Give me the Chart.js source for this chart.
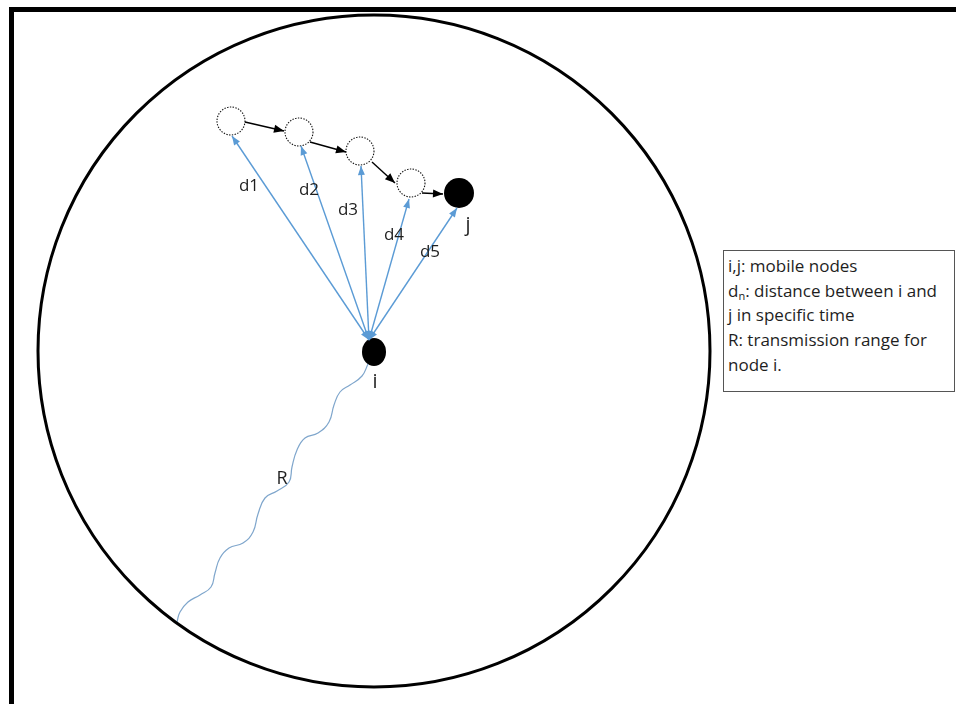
<!DOCTYPE html>
<html>
<head>
<meta charset="utf-8">
<title>Transmission range of node i</title>
<script src="https://cdn.jsdelivr.net/npm/chart.js@4/dist/chart.umd.min.js"></script>
<style>
  html, body { margin:0; padding:0; background:#fff; }
  #wrap { position:relative; width:956px; height:704px; overflow:hidden; }
  #frame { position:absolute; left:9px; top:7px; width:980px; height:740px;
           border-top:5px solid #000; border-left:5px solid #000; pointer-events:none; }
  #key { position:absolute; left:723px; top:250px; width:232px; height:142px; box-sizing:border-box;
         border:1.5px solid #555; padding:3px 0 0 4px; background:#fff;
         font-family:"Open Sans", sans-serif; font-size:17px; line-height:24.7px; color:#1e1e1e; }
  #key sub { font-size:11px; line-height:0; vertical-align:-3px; }
</style>
</head>
<body>
<div id="wrap">
  <canvas id="diagram"></canvas>
  <div id="frame"></div>
  <div id="key">
    <div>i,j: mobile nodes</div>
    <div>d<sub>n</sub>: distance between i and</div>
    <div>j in specific time</div>
    <div>R: transmission range for</div>
    <div>node i.</div>
  </div>
</div>
<script>
// coordinates: node i at origin, y up, 1 unit = 1 px
const X_MIN = -374, X_MAX = 582, Y_MIN = -352, Y_MAX = 352;

// range circle of node i
const rangeCenterX = [0];
const rangeCenterY = [1];
const rangeR = 336;

// earlier positions of node j (dotted)
const trailX = [-143, -75, -14, 37];
const trailY = [231, 220, 201, 169];

// current nodes
const nodeNames = ['j', 'i'];
const nodeX = [85, 0];
const nodeY = [159, 0];
const nodeLabelX = [94, 1];
const nodeLabelY = [127, -30];

// movement of j (black arrows)
const moveFromX = [-129, -64, -2, 48];
const moveFromY = [230, 210, 190, 159];
const moveToX = [-90, -28, 21, 69];
const moveToY = [221, 200, 169, 158];

// distances i -> j over time (blue arrows)
const distNames = ['d1', 'd2', 'd3', 'd4', 'd5'];
const distFromX = [-5, -5, -5, -5, -5];
const distFromY = [12, 12, 12, 12, 12];
const distToX = [-142, -73, -13, 35, 83];
const distToY = [216, 206, 186, 153, 144];
const distLabelX = [-125, -65, -26, 20, 56];
const distLabelY = [166, 162, 142, 117, 100];

// wavy radius line R
const waveX = [-6, -12, -24, -34, -40, -45, -56, -69, -77, -82, -85, -97, -109, -116, -121, -131, -145, -154, -159, -163, -174, -186, -194, -197];
const waveY = [-12, -24, -33, -40, -53, -70, -81, -86, -98, -115, -130, -139, -146, -162, -180, -191, -196, -206, -221, -235, -243, -250, -260, -270];
const rangeLabel = 'R';
const rangeLabelX = [-92];
const rangeLabelY = [-127];

const BLUE = '#5b9bd5';
const WAVE = '#7fa6cc';
const INK = '#1e1e1e';

function zip(xs, ys) { return xs.map((x, k) => ({ x, y: ys[k] })); }

function dottedRing(r) {
  const c = document.createElement('canvas');
  const s = 2 * r + 4;
  c.width = s; c.height = s;
  const g = c.getContext('2d');
  g.strokeStyle = '#111'; g.lineWidth = 1.1; g.setLineDash([1.4, 1.4]);
  g.beginPath(); g.arc(s / 2, s / 2, r, 0, Math.PI * 2); g.stroke();
  return c;
}
function blob(rx, ry) {
  const c = document.createElement('canvas');
  c.width = 2 * rx + 2; c.height = 2 * ry + 2;
  const g = c.getContext('2d');
  g.fillStyle = '#000';
  g.beginPath(); g.ellipse(rx + 1, ry + 1, rx, ry, 0, 0, Math.PI * 2); g.fill();
  return c;
}

const datasets = [];

// range circle: radius follows the x scale
datasets.push({
  data: zip(rangeCenterX, rangeCenterY), showLine: false,
  pointStyle: 'circle', backgroundColor: 'rgba(0,0,0,0)', borderColor: '#000', borderWidth: 3,
  pointRadius: c => c.chart.scales.x.getPixelForValue(rangeR) - c.chart.scales.x.getPixelForValue(0),
});

datasets.push({
  data: zip(waveX, waveY), showLine: true, tension: 0.45,
  borderColor: WAVE, borderWidth: 1.2, pointRadius: 0,
});

moveFromX.forEach((_, k) => datasets.push({
  data: [{ x: moveFromX[k], y: moveFromY[k] }, { x: moveToX[k], y: moveToY[k] }],
  showLine: true, borderColor: '#000', borderWidth: 1.4, pointRadius: 0,
  arrow: 'end', headLen: 10, headW: 4,
}));

distNames.forEach((_, k) => datasets.push({
  data: [{ x: distFromX[k], y: distFromY[k] }, { x: distToX[k], y: distToY[k] }],
  showLine: true, borderColor: BLUE, borderWidth: 1.4, pointRadius: 0,
  arrow: 'both', headLen: 9, headW: 3.5,
}));

datasets.push({
  data: zip(trailX, trailY), showLine: false,
  pointStyle: dottedRing(14), pointRadius: 15,
});
datasets.push({
  data: [{ x: nodeX[0], y: nodeY[0] }], showLine: false,
  pointStyle: 'circle', pointRadius: 15, backgroundColor: '#000', borderWidth: 0,
});
datasets.push({
  data: [{ x: nodeX[1], y: nodeY[1] }], showLine: false,
  pointStyle: blob(12, 14), pointRadius: 14,
});

function head(ctx, from, to, len, w) {
  const a = Math.atan2(to.y - from.y, to.x - from.x);
  ctx.beginPath();
  ctx.moveTo(to.x, to.y);
  ctx.lineTo(to.x - len * Math.cos(a) + w * Math.sin(a), to.y - len * Math.sin(a) - w * Math.cos(a));
  ctx.lineTo(to.x - len * Math.cos(a) - w * Math.sin(a), to.y - len * Math.sin(a) + w * Math.cos(a));
  ctx.closePath();
  ctx.fill();
}

const arrowHeads = {
  id: 'arrowHeads',
  afterDatasetsDraw(chart) {
    const ctx = chart.ctx;
    chart.data.datasets.forEach((ds, k) => {
      if (!ds.arrow) return;
      const pts = chart.getDatasetMeta(k).data;
      const a = pts[0], b = pts[pts.length - 1];
      ctx.save();
      ctx.fillStyle = ds.borderColor;
      head(ctx, a, b, ds.headLen, ds.headW);
      if (ds.arrow === 'both') head(ctx, b, a, ds.headLen, ds.headW);
      ctx.restore();
    });
  },
};

const labels = {
  id: 'labels',
  afterDraw(chart) {
    const { ctx, scales: { x, y } } = chart;
    const put = (t, vx, vy) => ctx.fillText(t, x.getPixelForValue(vx), y.getPixelForValue(vy));
    ctx.save();
    ctx.fillStyle = INK;
    ctx.font = '17px "Open Sans", sans-serif';
    ctx.textAlign = 'center';
    ctx.textBaseline = 'middle';
    distNames.forEach((t, k) => put(t, distLabelX[k], distLabelY[k]));
    ctx.font = '20px "Open Sans", sans-serif';
    nodeNames.forEach((t, k) => put(t, nodeLabelX[k], nodeLabelY[k]));
    ctx.font = '18px "Open Sans", sans-serif';
    put(rangeLabel, rangeLabelX[0], rangeLabelY[0]);
    ctx.restore();
  },
};

new Chart(document.getElementById('diagram'), {
  type: 'scatter',
  data: { datasets },
  options: {
    responsive: true, maintainAspectRatio: false, animation: false,
    layout: { padding: 0, autoPadding: false },
    events: [],
    plugins: { legend: { display: false }, tooltip: { enabled: false } },
    scales: {
      x: { type: 'linear', min: X_MIN, max: X_MAX, display: false },
      y: { type: 'linear', min: Y_MIN, max: Y_MAX, display: false },
    },
  },
  plugins: [arrowHeads, labels],
});
</script>
</body>
</html>
